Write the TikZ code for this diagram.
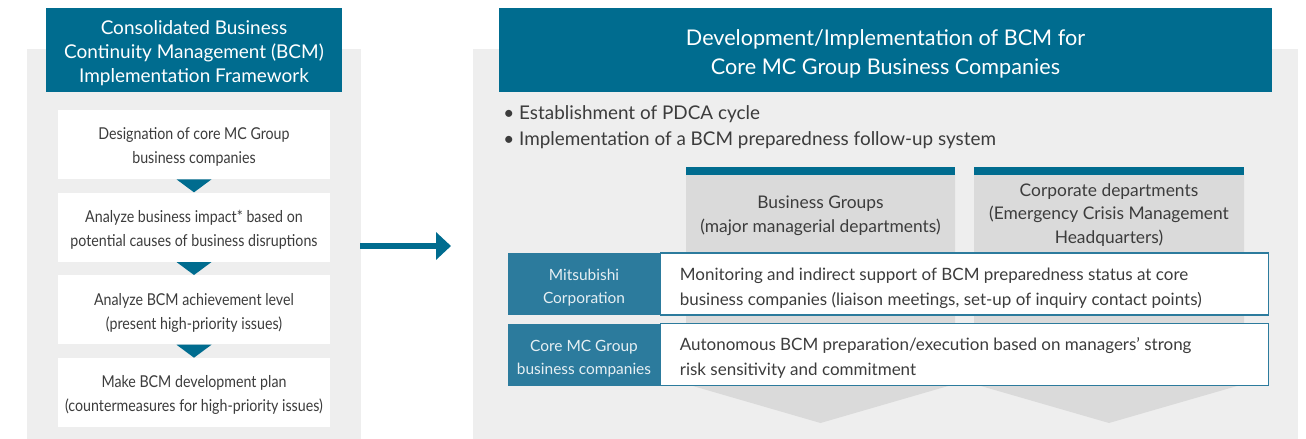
\documentclass[tikz,border=0pt]{standalone}
\usepackage{fontspec}
\setmainfont{Lato}
\newfontfamily\narrowfont[FakeStretch=0.87]{Lato}
\usepackage{tikz}
\usetikzlibrary{positioning, arrows.meta, calc}
\definecolor{mcteal}{RGB}{0,108,143}
\definecolor{mclabel}{RGB}{44,123,157}
\definecolor{panelgray}{RGB}{238,238,238}
\definecolor{colgray}{RGB}{218,218,218}
\definecolor{bodytext}{RGB}{60,60,60}
\tikzset{
	lower/.style={execute at begin node={\rule{0pt}{#1}}},
	titlebox/.style={rectangle, fill=mcteal, text=white, align=flush center,
		text width=#1, minimum height=1.68cm, inner sep=0pt},
	stepbox/.style={rectangle, fill=white, text=bodytext, align=flush center,
		text width=5.44cm, minimum height=1.38cm, inner sep=0pt,
		font=\narrowfont\fontsize{9.3}{13.6}\selectfont, lower=9.9pt},
	steptip/.style={fill=mcteal},
	bigarrow/.style={-{Triangle[width=0.54cm, length=0.3cm]}, line width=0.14cm, mcteal},
	bullet/.style={anchor=west, text=bodytext, inner sep=0pt,
		font=\fontsize{10.75}{14}\selectfont},
	coltext/.style={text=bodytext, align=center, inner sep=0pt,
		font=\fontsize{9.9}{13.4}\selectfont},
	rowlabel/.style={rectangle, fill=mclabel, text=white!88!mclabel, align=flush center,
		text width=3.04cm, minimum height=1.24cm, inner sep=0pt,
		font=\fontsize{8.8}{13}\selectfont, lower=11pt},
	rowtext/.style={rectangle, draw=mclabel, line width=0.6pt, fill=white,
		text=bodytext, align=flush left, text width=11.4cm, inner xsep=0.38cm,
		inner ysep=0pt, minimum height=1.24cm,
		font=\fontsize{9.67}{14.2}\selectfont, lower=11.6pt}
}

\begin{document}
\begin{tikzpicture}[x=0.02cm, y=-0.02cm]
	\useasboundingbox (0,0) rectangle (1306,439);
	
	%% ---- Background panels ----
	\fill[panelgray] (27,49) rectangle (361,439);
	\fill[panelgray] (473,49) rectangle (1298,439);
	
	%% ---- Left: framework ----
	\node[titlebox=5.92cm, font=\fontsize{10.8}{13.6}\selectfont, lower=11.3pt]
	(lefttitle) at (194,50)
	{Consolidated Business\\Continuity Management (BCM)\\Implementation Framework};
	
	\node[stepbox] (s1) at (194,144.5) {Designation of core MC Group\\business companies};
	\node[stepbox, below=0.26cm of s1] (s2) {Analyze business impact* based on\\potential causes of business disruptions};
	\node[stepbox, below=0.26cm of s2] (s3) {Analyze BCM achievement level\\(present high-priority issues)};
	\node[stepbox, below=0.26cm of s3] (s4) {Make BCM development plan\\(countermeasures for high-priority issues)};
	
	%% ---- Down tips between steps ----
	\foreach \a/\b in {s1/s2, s2/s3, s3/s4}{
		\fill[steptip] (\a.south) ++(-17.5,0) -- ++(35,0) -- (\b.north) -- cycle;
	}
	
	%% ---- Arrow: left -> right ----
	\coordinate (arrstart) at (360,246);
	\coordinate (arrend) at (451,246);
	\draw[bigarrow] (arrstart) -- (arrend);
	
	%% ---- Right: development/implementation ----
	\node[titlebox=15.46cm, font=\fontsize{12.3}{16.4}\selectfont, lower=13.5pt]
	(righttitle) at (885.5,50)
	{Development/Implementation of BCM for\\Core MC Group Business Companies};
	
	\node[bullet] (b1) at (503,114) {• Establishment of PDCA cycle};
	\node[bullet] (b2) at (503,140) {• Implementation of a BCM preparedness follow-up system};
	
	%% ---- Columns with pointed ends ----
	\foreach \l/\r in {686/955, 974/1244}{
		\fill[colgray] (\l,175) -- (\r,175) -- (\r,384) -- ({(\l+\r)/2},423) -- (\l,384) -- cycle;
		\fill[mcteal] (\l,167) rectangle (\r,175);
	}
	\node[coltext] (col1) at (820.5,216) {Business Groups\\(major managerial departments)};
	\node[coltext] (col2) at (1109,215) {Corporate departments\\(Emergency Crisis Management\\Headquarters)};
	
	%% ---- Rows ----
	\node[rowlabel] (l1) at (584,284) {Mitsubishi\\Corporation};
	\node[rowtext, right=0pt of l1] (r1)
	{Monitoring and indirect support of BCM preparedness status at core\\business companies (liaison meetings, set-up of inquiry contact points)};
	\node[rowlabel, below=0.16cm of l1] (l2) {Core MC Group\\business companies};
	\node[rowtext, right=0pt of l2] (r2)
	{Autonomous BCM preparation/execution based on managers’ strong\\risk sensitivity and commitment};
	
\end{tikzpicture}
\end{document}
